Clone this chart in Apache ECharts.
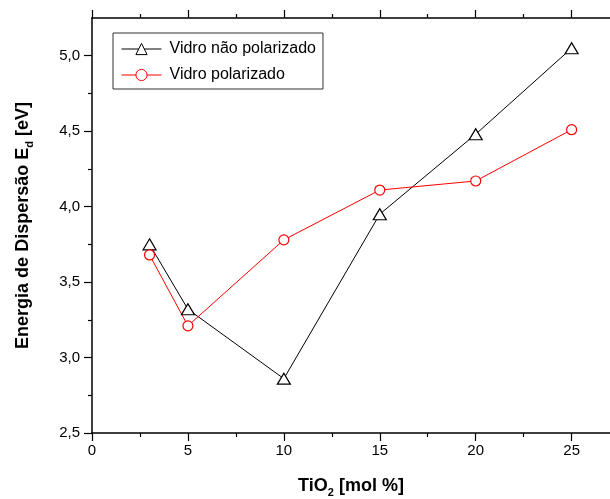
<!DOCTYPE html>
<html>
<head>
<meta charset="utf-8">
<script src="https://cdn.jsdelivr.net/npm/echarts@6/dist/echarts.min.js"></script>
<style>
  html, body { margin: 0; padding: 0; background: #fff; }
  #chart { width: 610px; height: 499px; }
</style>
</head>
<body>
<div id="chart"></div>
<script>
// ---- 数据 ----
const tio2 = [3, 5, 10, 15, 20, 25];
const naoPolarizado = [3.75, 3.32, 2.86, 3.95, 4.48, 5.05];
const polarizado = [3.68, 3.21, 3.78, 4.11, 4.17, 4.51];

const xMajor = [0, 5, 10, 15, 20, 25];
const xMinor = [2.5, 7.5, 12.5, 17.5, 22.5];
const yMajor = [2.5, 3.0, 3.5, 4.0, 4.5, 5.0];
const yMinor = [2.75, 3.25, 3.75, 4.25, 4.75];

const X_MIN = 0, X_MAX = 27;
const Y_MIN = 2.5, Y_MAX = 5.25;

const FONT = 'Liberation Sans, Arial, sans-serif';
const chart = echarts.init(document.getElementById('chart'));

const pairs = ys => tio2.map((x, i) => [x, ys[i]]);

// 坐标轴（主刻度 / 次刻度分开画）
function xAxisDef(pos, ticks, len, withLine, withLabel) {
    return {
        type: 'value', position: pos, min: X_MIN, max: X_MAX,
        axisLine: { show: withLine, onZero: false, lineStyle: { color: '#000', width: 1.5 } },
        axisTick: { show: true, inside: false, length: len, customValues: ticks, lineStyle: { color: '#000', width: 1.2 } },
        axisLabel: withLabel
            ? { show: true, customValues: ticks, color: '#000', fontSize: 15, fontFamily: FONT, margin: 10 }
            : { show: false },
        splitLine: { show: false },
    };
}
function yAxisDef(ticks, len, withLine, withLabel) {
    return {
        type: 'value', position: 'left', min: Y_MIN, max: Y_MAX,
        axisLine: { show: withLine, onZero: false, lineStyle: { color: '#000', width: 1.5 } },
        axisTick: { show: true, inside: false, length: len, customValues: ticks, lineStyle: { color: '#000', width: 1.2 } },
        axisLabel: withLabel
            ? { show: true, customValues: ticks, color: '#000', fontSize: 15, fontFamily: FONT, margin: 12,
                formatter: v => v.toFixed(1).replace('.', ',') }
            : { show: false },
        splitLine: { show: false },
    };
}

const nameStyle = {
    color: '#000', fontSize: 18, fontWeight: 'bold', fontFamily: FONT,
    rich: { sub: { fontSize: 11, fontWeight: 'bold', fontFamily: FONT, color: '#000', padding: [13, 0, 0, 0] } }
};

const xMain = xAxisDef('bottom', xMajor, 8, true, true);
xMain.name = 'TiO{sub|2} [mol %]';
xMain.nameLocation = 'middle';
xMain.nameGap = 41;
xMain.nameTextStyle = nameStyle;

const yMain = yAxisDef(yMajor, 8, true, true);
yMain.name = 'Energia de Dispersão E{sub|d} [eV]';
yMain.nameLocation = 'middle';
yMain.nameGap = 57;
yMain.nameTextStyle = nameStyle;

chart.setOption({
    backgroundColor: '#fff',
    animation: false,
    grid: { left: 92, right: 0, top: 18, bottom: 66, outerBoundsMode: 'none', containLabel: false },
    legend: {
        orient: 'vertical', left: 113, top: 33,
        padding: [8, 7, 6, 8], itemGap: 10,
        itemWidth: 40, itemHeight: 14,
        borderColor: '#333', borderWidth: 1,
        lineStyle: { width: 1 },
        itemStyle: { borderWidth: 1 },
        textStyle: { color: '#000', fontSize: 16, fontFamily: FONT, padding: [0, 0, 0, 3] },
        data: ['Vidro não polarizado', 'Vidro polarizado'],
    },
    xAxis: [
        xMain,
        xAxisDef('bottom', xMinor, 4, false, false),
        xAxisDef('top', xMajor, 8, true, false),
        xAxisDef('top', xMinor, 4, false, false),
    ],
    yAxis: [
        yMain,
        yAxisDef(yMinor, 4, false, false),
    ],
    series: [
        {
            name: 'Vidro não polarizado', type: 'line', data: pairs(naoPolarizado),
            symbol: 'triangle', symbolSize: [13, 11],
            lineStyle: { color: '#000', width: 1 },
            itemStyle: { color: '#fff', borderColor: '#000', borderWidth: 1.2 },
        },
        {
            name: 'Vidro polarizado', type: 'line', data: pairs(polarizado),
            symbol: 'circle', symbolSize: 10,
            lineStyle: { color: '#ff0000', width: 1 },
            itemStyle: { color: '#fff', borderColor: '#ff0000', borderWidth: 1.2 },
        },
    ],
});
</script>
</body>
</html>
